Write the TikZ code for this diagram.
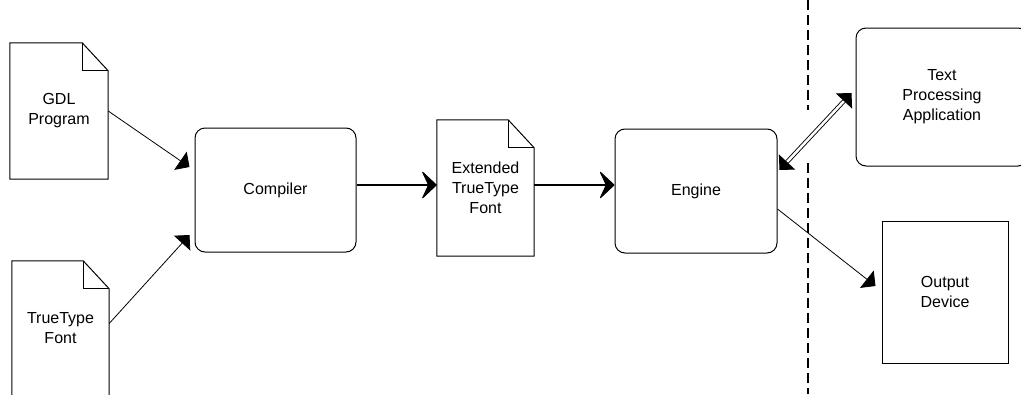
\documentclass[tikz,border=0pt]{standalone}
\usepackage{fontspec}
\setmainfont{Liberation Sans}
\usetikzlibrary{arrows.meta}

\newcommand{\dogear}[1]{%
\draw[line width=1pt] (#1.north west) -- ([xshift=-26pt]#1.north east) -- ([yshift=-28pt]#1.north east) -- (#1.south east) -- (#1.south west) -- cycle;
\draw[line width=1pt] ([xshift=-26pt]#1.north east) |- ([yshift=-28pt]#1.north east);}

\begin{document}
\begin{tikzpicture}[x=1pt,y=-1pt,
  font=\fontsize{16}{20}\selectfont,
  box/.style={draw,line width=1pt,rounded corners=10pt,align=center},
  doc/.style={align=center,inner sep=0pt},
  feed/.style={line width=0.8pt,-{Triangle[length=11pt,width=22pt]}},
  flow/.style={line width=1.1pt,-{Stealth[length=16pt,width=30pt,inset=7pt,round]}},
  link/.style={double,double distance=2.5pt,line width=0.9pt,{Triangle[length=11pt,width=22pt]}-{Triangle[length=11pt,width=22pt]}}]
\clip (0,0) rectangle (1021,394);
%\draw[step=50,gray,very thin] (0,0) grid (1021,394);

\node[doc,minimum width=98pt,minimum height=136pt] (gdl) at (59,111) {GDL\\Program};
\node[doc,minimum width=97pt,minimum height=135pt] (ttf) at (60.5,328.5) {TrueType\\Font};
\node[doc,minimum width=97pt,minimum height=136pt] (ext) at (485.5,188) {Extended\\TrueType\\Font};
\dogear{gdl}
\dogear{ttf}
\dogear{ext}

\node[box,minimum width=161pt,minimum height=124pt] (compiler) at (275.5,190) {Compiler};
\node[box,minimum width=162pt,minimum height=124pt] (engine) at (696,191) {Engine};
\node[box,minimum width=172pt,minimum height=138pt] (tpa) at (942,97) {Text\\Processing\\Application};
\node[draw,line width=1pt,align=center,minimum width=126pt,minimum height=142pt] (out) at (945,292) {Output\\Device};

\draw[line width=1.3pt,dash pattern=on 10pt off 5pt] (808,0) -- (808,110);
\draw[line width=1.3pt,dash pattern=on 10pt off 5pt] (808,163) -- (808,394);

\draw[feed] (gdl.east) -- ([shift={(-5pt,23pt)}]compiler.west);
\draw[feed] ([yshift=5pt]ttf.east) -- ([shift={(-5pt,-45pt)}]compiler.west);
\draw[flow] ([yshift=5pt]compiler.east) -- ([yshift=3pt]ext.west);
\draw[flow] ([yshift=3pt]ext.east) -- ([yshift=6pt]engine.west);
\draw[link] ([shift={(2pt,21pt)}]engine.east) -- ([shift={(-4pt,4pt)}]tpa.west);
\draw[feed] ([yshift=-18pt]engine.east) -- ([shift={(-6pt,6pt)}]out.west);

\end{tikzpicture}
\end{document}
